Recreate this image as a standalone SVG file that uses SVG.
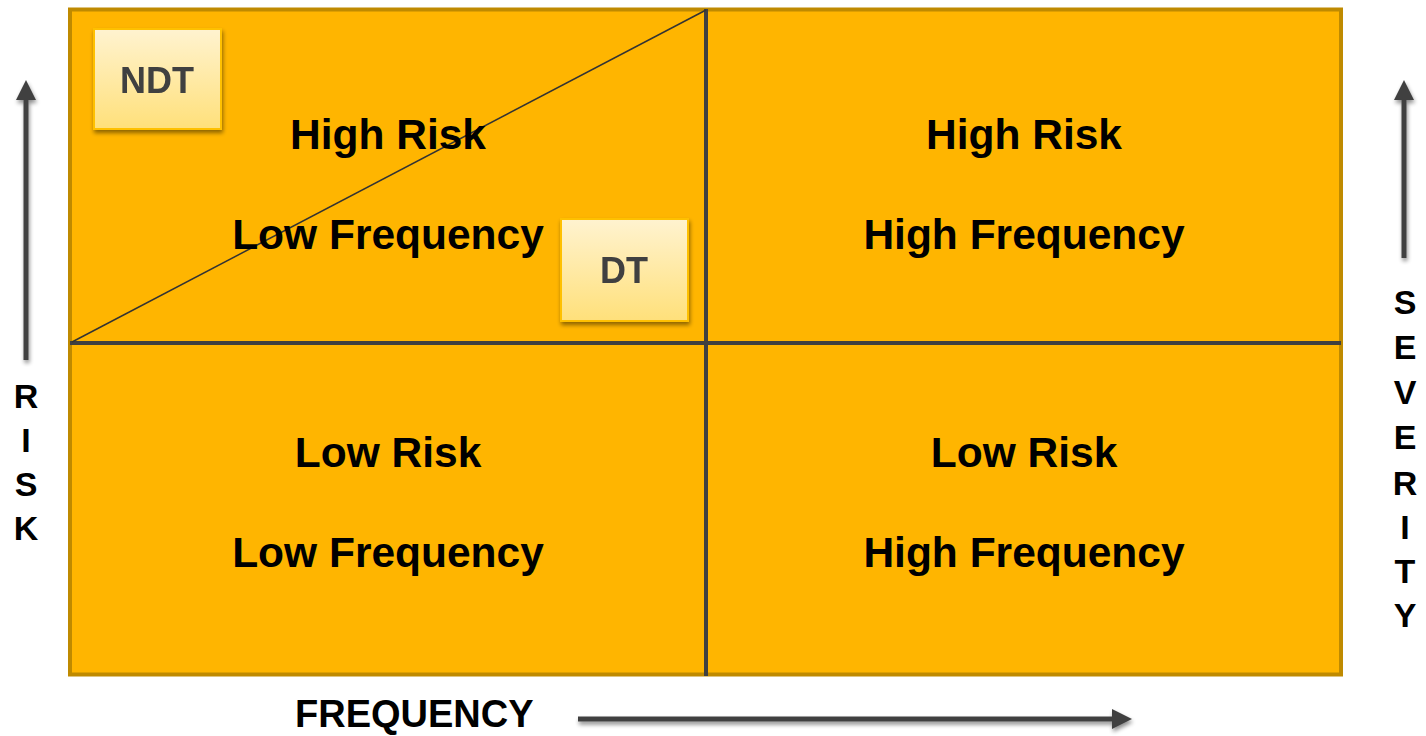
<svg xmlns="http://www.w3.org/2000/svg" width="1426" height="736" viewBox="0 0 1426 736">
  <defs>
    <linearGradient id="boxFill" x1="0" y1="0" x2="0" y2="1">
      <stop offset="0" stop-color="#FFF3D0"/>
      <stop offset="1" stop-color="#FFE07A"/>
    </linearGradient>
    <filter id="shadow" x="-20%" y="-20%" width="140%" height="140%">
      <feGaussianBlur in="SourceAlpha" stdDeviation="2"/>
      <feOffset dx="1" dy="3" result="b"/>
      <feComponentTransfer><feFuncA type="linear" slope="0.45"/></feComponentTransfer>
      <feMerge><feMergeNode/><feMergeNode in="SourceGraphic"/></feMerge>
    </filter>
    <marker id="arrowHead" markerWidth="4" markerHeight="4" refX="2" refY="2" orient="auto" markerUnits="strokeWidth">
      <path d="M0,0 L4,2 L0,4 Z" fill="#404040"/>
    </marker>
    <style>
      .quad { font-family: "Liberation Sans", Arial, sans-serif; font-weight: bold; font-size: 42.5px; fill: #000; text-anchor: middle; }
      .axis { font-family: "Liberation Sans", Arial, sans-serif; font-weight: bold; font-size: 34px; fill: #000; text-anchor: middle; }
      .title { font-family: "Liberation Sans", Arial, sans-serif; font-weight: bold; font-size: 38px; fill: #000; }
      .tag { font-family: "Liberation Sans", Arial, sans-serif; font-weight: bold; font-size: 36px; fill: #404040; text-anchor: middle; }
      .divider { stroke: #404040; stroke-width: 4; fill: none; }
      .arrow { stroke: #404040; stroke-width: 5; fill: none; marker-end: url(#arrowHead); }
      .box { fill: url(#boxFill); stroke: #FFC000; stroke-width: 2; }
    </style>
  </defs>

  <!-- matrix background -->
  <g id="matrix">
    <rect x="70" y="9.5" width="1271" height="665" fill="#FFB500" stroke="#BF8A00" stroke-width="4"/>
  </g>

  <!-- dividers and axis arrows -->
  <g id="connectors">
    <line class="divider" x1="706" y1="9" x2="706" y2="676"/>
    <line class="divider" x1="70" y1="343" x2="1341" y2="343"/>
    <line x1="72" y1="342" x2="706" y2="10" stroke="#333" stroke-width="1.5"/>
    <g filter="url(#shadow)">
      <line class="arrow" x1="26" y1="360" x2="26" y2="90"/>
      <line class="arrow" x1="1404" y1="258" x2="1404" y2="90"/>
      <line class="arrow" x1="578" y1="719" x2="1122" y2="719"/>
    </g>
  </g>

  <!-- quadrant labels -->
  <g id="q-top-left">
    <text class="quad" x="388" y="149">High Risk</text>
    <text class="quad" x="388" y="249">Low Frequency</text>
  </g>
  <g id="q-top-right">
    <text class="quad" x="1024" y="149">High Risk</text>
    <text class="quad" x="1024" y="249">High Frequency</text>
  </g>
  <g id="q-bottom-left">
    <text class="quad" x="388" y="467">Low Risk</text>
    <text class="quad" x="388" y="567">Low Frequency</text>
  </g>
  <g id="q-bottom-right">
    <text class="quad" x="1024" y="467">Low Risk</text>
    <text class="quad" x="1024" y="567">High Frequency</text>
  </g>

  <!-- NDT / DT tags -->
  <g id="ndt" filter="url(#shadow)">
    <rect class="box" x="94" y="29" width="127" height="100"/>
    <text class="tag" x="157" y="93">NDT</text>
  </g>
  <g id="dt" filter="url(#shadow)">
    <rect class="box" x="561" y="219" width="127" height="102"/>
    <text class="tag" x="624" y="283">DT</text>
  </g>

  <!-- axis titles -->
  <g id="risk-label">
    <text class="axis" x="26" y="408">R</text>
    <text class="axis" x="26" y="452">I</text>
    <text class="axis" x="26" y="496">S</text>
    <text class="axis" x="26" y="540">K</text>
  </g>
  <g id="severity-label">
    <text class="axis" x="1405" y="314">S</text>
    <text class="axis" x="1405" y="359">E</text>
    <text class="axis" x="1405" y="404">V</text>
    <text class="axis" x="1405" y="449">E</text>
    <text class="axis" x="1405" y="495">R</text>
    <text class="axis" x="1405" y="539">I</text>
    <text class="axis" x="1405" y="583">T</text>
    <text class="axis" x="1405" y="627">Y</text>
  </g>
  <g id="frequency-label">
    <text class="title" x="295" y="727">FREQUENCY</text>
  </g>
</svg>
